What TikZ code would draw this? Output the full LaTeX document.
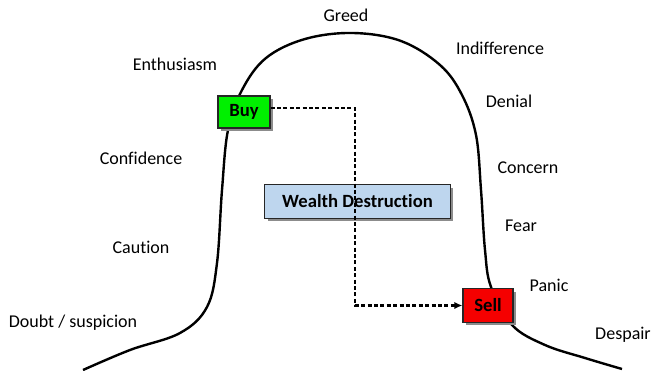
\documentclass[tikz,border=0pt]{standalone}
\usepackage{fontspec}
\setmainfont{Carlito}[Ligatures=NoCommon]
\usetikzlibrary{arrows.meta,shadows}

\definecolor{buygreen}{RGB}{0,240,0}
\definecolor{sellred}{RGB}{245,0,0}
\definecolor{wdblue}{RGB}{190,214,238}

\begin{document}
\begin{tikzpicture}[x=0.75pt,y=-0.75pt,
  lbl/.style={font=\fontsize{13.5}{16}\selectfont},
  box/.style={draw=black!85,line width=0.9pt,font=\fontsize{14}{16}\selectfont\bfseries,
    inner sep=0pt,drop shadow={shadow xshift=2pt,shadow yshift=-2pt,fill=black!45,opacity=1}},
  flow/.style={line width=1.7pt,dash pattern=on 3pt off 1.8pt,-{Latex[length=6pt,width=5.5pt]}}]

\useasboundingbox (0,0) rectangle (653,371);

% the market cycle
\draw[line width=1.8pt] plot[smooth,tension=0.6] coordinates {(83,370) (130,350) (180,333) (207,307)
  (217,263) (222,190) (228,130) (242,90) (266,58) (305,39) (353,33) (401,41) (440,65) (462,95)
  (476,135) (481,190) (485,250) (491,287) (512,325) (545,345) (585,358) (622,369)};

% emotions
\node[lbl] (greed) at (346,15) {Greed};
\node[lbl] (indiff) at (500,48) {Indifference};
\node[lbl] (enth) at (175,64) {Enthusiasm};
\node[lbl] (denial) at (509,101) {Denial};
\node[lbl] (conf) at (141,158) {Confidence};
\node[lbl] (concern) at (528,168) {Concern};
\node[lbl] (fear) at (521,226) {Fear};
\node[lbl] (caution) at (141,247) {Caution};
\node[lbl] (panic) at (549,285) {Panic};
\node[lbl] (doubt) at (73,323) {Doubt / suspicion};
\node[lbl] (despair) at (623,335) {Despair};

% boxes
\node[box,fill=buygreen,minimum width=39pt,minimum height=24pt] (buy) at (244,112) {Buy};
\node[box,fill=sellred,minimum width=37.5pt,minimum height=25pt] (sell) at (488,305.5) {Sell};
\node[box,fill=wdblue,minimum width=139pt,minimum height=25pt] (wd) at (357.5,201.5) {Wealth Destruction};

\coordinate (turn) at (355,0);
\draw[flow] ([yshift=3pt]buy.east) -| (turn |- sell.west) -- (sell.west);

\end{tikzpicture}
\end{document}
